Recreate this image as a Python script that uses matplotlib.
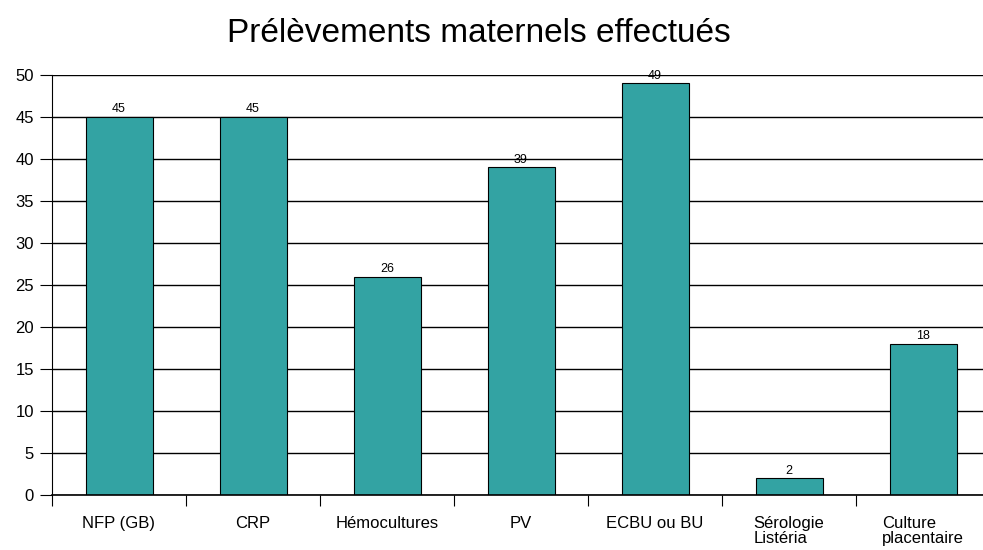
import matplotlib.pyplot as plt
import numpy as np

categories = ['NFP (GB)', 'CRP', 'Hémocultures', 'PV', 'ECBU ou BU',
              'Sérologie\nListéria', 'Culture\nplacentaire']
values = [45, 45, 26, 39, 49, 2, 18]
yticks = [0, 5, 10, 15, 20, 25, 30, 35, 40, 45, 50]

plt.rcParams['font.family'] = ['Liberation Sans', 'DejaVu Sans']

fig = plt.figure(figsize=(9.83, 5.5), dpi=100)
# axes goes slightly past the right edge like in the original
ax = fig.add_axes([52 / 983, 55 / 550, 938 / 983, 420 / 550])

x = np.arange(len(categories))
bars = ax.bar(x, values, width=0.5, color='#33a3a3', edgecolor='black',
              linewidth=0.8, zorder=3)
for xi, v in zip(x, values):
    ax.text(xi, v + 0.2, str(v), ha='center', va='bottom', fontsize=9, zorder=4)

ax.set_xlim(-0.5, len(categories) - 0.5)
ax.set_ylim(0, 50)
ax.set_yticks(yticks)
ax.yaxis.grid(True, color='black', linewidth=1, zorder=1)
ax.tick_params(axis='y', length=9, width=0.8, labelsize=12, pad=4)

ax.set_xticks(x)
ax.set_xticklabels(categories, fontsize=12, multialignment='left',
                   linespacing=1.0)
ax.set_xticks(np.arange(len(categories)) - 0.5, minor=True)
ax.tick_params(axis='x', which='major', length=0, pad=15)
ax.tick_params(axis='x', which='minor', length=8, width=0.8)

for s in ['top', 'right']:
    ax.spines[s].set_visible(False)
ax.spines['left'].set_linewidth(0.8)
ax.spines['bottom'].set_linewidth(1.2)
ax.spines['bottom'].set_zorder(5)

fig.text(0.487, 1 - 42 / 550, 'Prélèvements maternels effectués', ha='center',
         va='baseline', fontsize=24)

fig.savefig('out.png', dpi=100)
